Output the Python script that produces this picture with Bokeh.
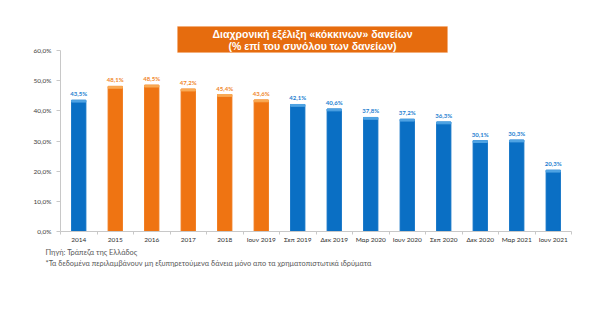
from bokeh.plotting import figure
from bokeh.models import Range1d, FixedTicker, CustomJSTickFormatter, Title, Label, BoxAnnotation, ColumnDataSource
from bokeh.core.properties import value
from bokeh.embed import file_html
from bokeh.resources import INLINE

categories = ["2014", "2015", "2016", "2017", "2018", "Ιουν 2019", "Σεπ 2019", "Δεκ 2019",
              "Μαρ 2020", "Ιουν 2020", "Σεπ 2020", "Δεκ 2020", "Μαρ 2021", "Ιουν 2021"]
values = [43.5, 48.1, 48.5, 47.2, 45.4, 43.6, 42.1, 40.6, 37.8, 37.2, 36.3, 30.1, 30.3, 20.3]
highlight = [False, True, True, True, True, True, False, False, False, False, False, False, False, False]
y_ticks = [0, 10, 20, 30, 40, 50, 60]
title_lines = ["Διαχρονική εξέλιξη «κόκκινων» δανείων", "(% επί του συνόλου των δανείων)"]
notes = ["Πηγή: Τράπεζα της Ελλάδος",
         "*Τα δεδομένα περιλαμβάνουν μη εξυπηρετούμενα δάνεια μόνο απο τα χρηματοπιστωτικά ιδρύματα"]

BLUE = "#0A6FC4"
BLUE_TOP = "#4FA3E3"
BLUE_LABEL = "#1C7ED0"
ORANGE = "#EF7412"
ORANGE_TOP = "#F9AA55"
ORANGE_LABEL = "#F0862A"
FONT = "Lato"

# layout (pixels)
FRAME_TOP, AXIS_TOP, AXIS_BOTTOM, H = 20, 50, 231, 321
ymax_axis = y_ticks[-1]
ymax_range = ymax_axis * (AXIS_BOTTOM - FRAME_TOP) / (AXIS_BOTTOM - AXIS_TOP)

xs = [i + 0.5 for i in range(len(categories))]
colors = [ORANGE if h else BLUE for h in highlight]
tops = [ORANGE_TOP if h else BLUE_TOP for h in highlight]
lab_colors = [ORANGE_LABEL if h else BLUE_LABEL for h in highlight]
labels = [f"{v:.1f}%".replace(".", ",") for v in values]
src = ColumnDataSource(dict(x=xs, v=values, c=colors, tc=tops, lc=lab_colors, lab=labels,
                            cap=[v - 0.6 for v in values]))

p = figure(width=600, height=H, output_backend="svg", toolbar_location=None,
           x_range=Range1d(0, len(categories)), y_range=Range1d(0, ymax_range),
           min_border_left=60, min_border_right=29, min_border_top=FRAME_TOP,
           min_border_bottom=H - AXIS_BOTTOM)
p.outline_line_color = None
p.xgrid.grid_line_color = None
p.ygrid.grid_line_color = None
p.background_fill_color = "white"
p.border_fill_color = "white"

p.vbar(x="x", top="v", bottom=0, width=0.39, color="c", source=src)
p.vbar(x="x", top="v", bottom="cap", width=0.39, color="tc", source=src)
p.text(x="x", y="v", text="lab", text_color="lc", source=src, text_align="center",
       text_baseline="bottom", y_offset=-3, text_font=value(FONT), text_font_size="6px",
       text_font_style="bold")

# axes
p.xaxis.ticker = FixedTicker(ticks=xs, minor_ticks=list(range(len(categories) + 1)))
p.xaxis.major_label_overrides = {x: c for x, c in zip(xs, categories)}
p.xaxis.major_tick_line_color = None
p.xaxis.major_tick_out = 0
p.xaxis.major_tick_in = 0
p.xaxis.minor_tick_line_color = "#C8C8C8"
p.xaxis.minor_tick_out = 3
p.xaxis.minor_tick_in = 0
p.xaxis.axis_line_color = "#C8C8C8"
p.xaxis.axis_label_standoff = 0
p.xaxis.major_label_text_font = FONT
p.xaxis.major_label_text_font_size = "6.5px"
p.xaxis.major_label_text_line_height = 1.0
p.xaxis.major_label_text_color = "#303030"
p.xaxis.major_label_standoff = 1

p.yaxis.bounds = (0, ymax_axis)
p.yaxis.ticker = FixedTicker(ticks=y_ticks)
p.yaxis.formatter = CustomJSTickFormatter(code="return tick.toFixed(1).replace('.', ',') + '%';")
p.yaxis.minor_tick_line_color = None
p.yaxis.major_tick_line_color = "#C8C8C8"
p.yaxis.major_tick_out = 4
p.yaxis.major_tick_in = 0
p.yaxis.axis_line_color = "#C8C8C8"
p.yaxis.major_label_text_font = FONT
p.yaxis.major_label_text_font_size = "6.5px"
p.yaxis.major_label_text_color = "#404040"
p.yaxis.major_label_standoff = 5

# title box (screen units: from the frame's bottom-left corner)
fl = 60
p.add_layout(BoxAnnotation(left=177 - fl, right=447 - fl,
                           top=AXIS_BOTTOM - 26, bottom=AXIS_BOTTOM - 52,
                           left_units="screen", right_units="screen",
                           top_units="screen", bottom_units="screen",
                           fill_color="#E66C0E", fill_alpha=1, line_color="#F5A060",
                           line_width=1, level="overlay"))
for i, t in enumerate(title_lines):
    p.add_layout(Label(x=312 - fl, y=AXIS_BOTTOM - 33 - i * 12, x_units="screen", y_units="screen",
                       text=t, text_align="center", text_baseline="middle", text_color="white",
                       text_font="Liberation Sans", text_font_size="10.5px",
                       text_font_style="bold", level="overlay"))

for t in notes:
    p.add_layout(Title(text=t, align="left", offset=-15, text_color="#595959",
                       text_font=FONT, text_font_size="7.4px", text_font_style="normal",
                       text_line_height=1.0, standoff=0, padding=0), "below")

open("out.html", "w").write(file_html(p, INLINE))
